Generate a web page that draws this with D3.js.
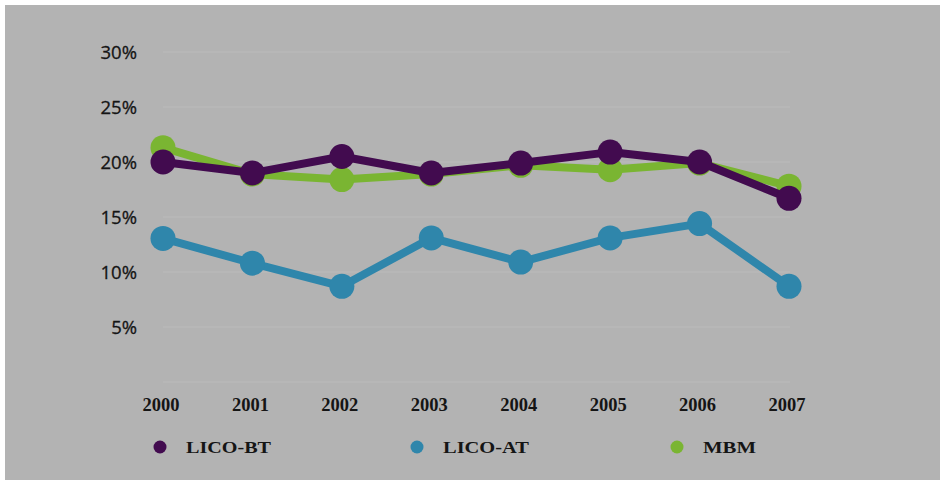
<!DOCTYPE html>
<html><head><meta charset="utf-8">
<script src="https://cdn.jsdelivr.net/npm/d3@7"></script>
<style>html,body{margin:0;padding:0;background:#fff;}</style>
</head><body>
<svg id="chart" width="945" height="485"></svg>
<script>
const years = ["2000","2001","2002","2003","2004","2005","2006","2007"];
const licoBT = [20.0, 19.0, 20.5, 19.0, 19.9, 20.9, 20.0, 16.7];
const licoAT = [13.05, 10.8, 8.7, 13.1, 10.9, 13.1, 14.4, 8.7];
const mbm    = [21.3, 18.9, 18.4, 18.9, 19.7, 19.3, 19.9, 17.8];
const yTicks = [5, 10, 15, 20, 25, 30];
const seriesNames = ["LICO-BT", "LICO-AT", "MBM"];
const colors = {"LICO-BT": "#420b4f", "LICO-AT": "#2f86ab", "MBM": "#7ab532"};

const svg = d3.select("#chart");
svg.append("rect").attr("x",5).attr("y",5).attr("width",935).attr("height",475).attr("fill","#b3b3b3");

const x = d3.scalePoint().domain(years).range([163, 789]);
const y = d3.scaleLinear().domain([0, 30]).range([382, 52]);

// gridlines
svg.append("g").selectAll("line").data([0].concat(yTicks)).join("line")
  .attr("x1",163).attr("x2",790)
  .attr("y1",d=>y(d)).attr("y2",d=>y(d))
  .attr("stroke","#bcbcbc").attr("stroke-width",1.2);

// y labels
svg.append("g").selectAll("text").data(yTicks).join("text")
  .attr("x",137).attr("y",d=>y(d)).attr("dy","0.36em")
  .attr("text-anchor","end")
  .attr("font-family","'Open Sans', sans-serif").attr("font-size",18.5)
  .attr("fill","#151515")
  .attr("stroke","#151515").attr("stroke-width",0.3)
  .text(d=>d+"%");

// x labels
svg.append("g").selectAll("text").data(years).join("text")
  .attr("x",d=>x(d)-2).attr("y",405).attr("dy","0.35em")
  .attr("text-anchor","middle")
  .attr("font-family","'Liberation Serif', serif").attr("font-weight","bold").attr("font-size",18.5)
  .attr("fill","#151515")
  .text(d=>d);

const seriesData = [
  {name:"MBM", values: mbm},
  {name:"LICO-AT", values: licoAT},
  {name:"LICO-BT", values: licoBT}
];
const line = d3.line().x((d,i)=>x(years[i])).y(d=>y(d));
seriesData.forEach(s => {
  const g = svg.append("g");
  g.append("path").datum(s.values).attr("d", line)
    .attr("fill","none").attr("stroke",colors[s.name]).attr("stroke-width",8)
    .attr("stroke-linejoin","round");
  g.selectAll("circle").data(s.values).join("circle")
    .attr("cx",(d,i)=>x(years[i])).attr("cy",d=>y(d)).attr("r",12.5)
    .attr("fill",colors[s.name]);
});

// legend
const legendX = [160, 417, 677];
const legendTextLen = [85, 86, 53];
seriesNames.forEach((n,i) => {
  svg.append("circle").attr("cx",legendX[i]).attr("cy",447).attr("r",6.5).attr("fill",colors[n]);
  svg.append("text").attr("x",legendX[i]+26).attr("y",447).attr("dy","0.35em")
    .attr("font-family","'Liberation Serif', serif").attr("font-weight","bold").attr("font-size",17.5)
    .attr("fill","#151515")
    .attr("textLength",legendTextLen[i]).attr("lengthAdjust","spacingAndGlyphs")
    .text(n);
});
</script>
</body></html>
